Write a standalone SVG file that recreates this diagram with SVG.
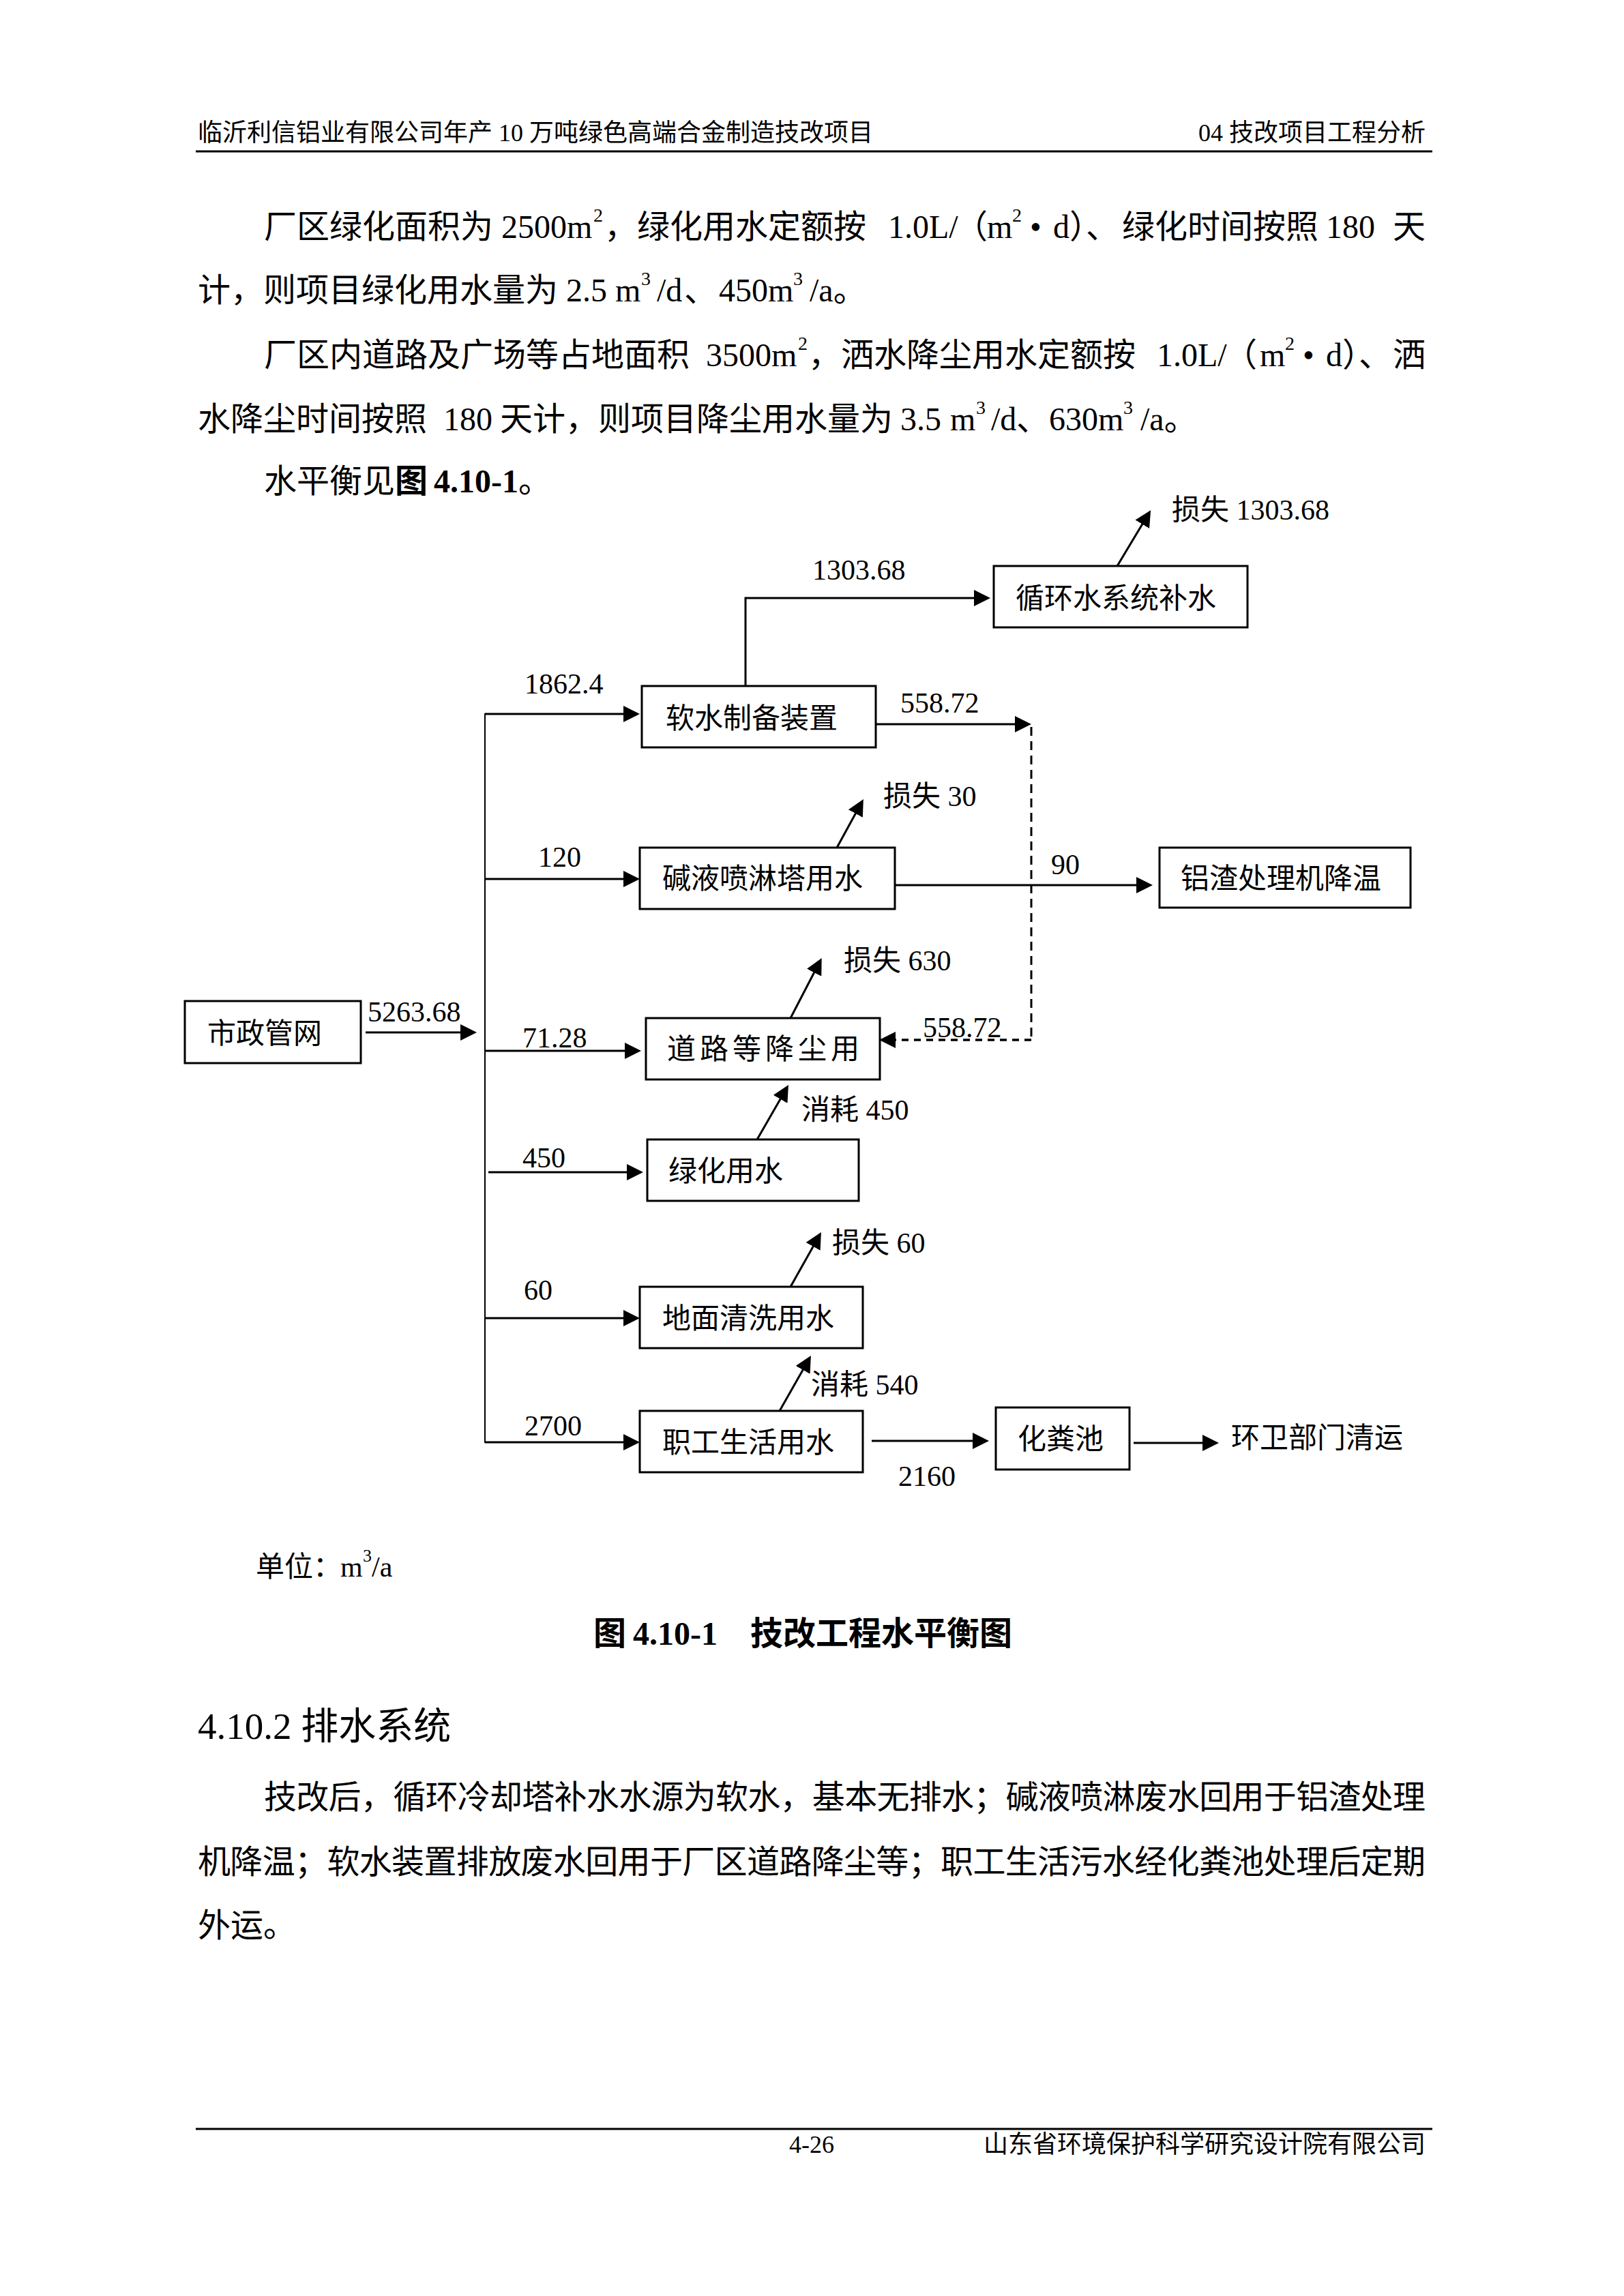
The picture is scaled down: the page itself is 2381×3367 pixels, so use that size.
<svg xmlns="http://www.w3.org/2000/svg" width="2381" height="3367" viewBox="0 0 2381 3367">
<style>
text { font-family: "Liberation Serif", "Noto Sans CJK SC", serif; fill: #000; }
.hd { font-size: 36px; }
.b { font-size: 48px; }
.sup { font-size: 28px; }
.bold { font-weight: bold; }
.halt { font-family: "Noto Sans CJK SC", sans-serif; font-feature-settings: "halt" 1; }
.h2 { font-size: 55px; }
.d { font-size: 42px; }
.box { fill: #fff; stroke: #000; stroke-width: 3; }
.ln { fill: none; stroke: #000; stroke-width: 3; }
.trunk { fill: none; stroke: #000; stroke-width: 2; }
.dash1 { fill: none; stroke: #000; stroke-width: 3; stroke-dasharray: 13 8; }
.dash2 { fill: none; stroke: #000; stroke-width: 3.3; stroke-dasharray: 10 8; }
.rule { stroke: #000; stroke-width: 3; }
</style>
<defs>
<marker id="ah" markerUnits="userSpaceOnUse" markerWidth="24" markerHeight="24" refX="16" refY="12" orient="auto">
<path d="M0,0 L24,12 L0,24 Z" fill="#000"/>
</marker>
</defs>
<rect x="0" y="0" width="2381" height="3367" fill="#fff"/>

<!-- header -->
<g id="header">
<text class="hd" x="290" y="207">临沂利信铝业有限公司年产 10 万吨绿色高端合金制造技改项目</text>
<text class="hd" x="2090" y="207" text-anchor="end">04 技改项目工程分析</text>
<line class="rule" x1="287" y1="222" x2="2100" y2="222"/>
</g>

<!-- paragraph 1 -->
<g id="para1">
<text class="b" y="349"><tspan x="387">厂区绿化面积为</tspan><tspan x="735">2500m</tspan><tspan x="870" y="325" class="sup">2</tspan><tspan x="886" y="349">，绿化用水定额按</tspan><tspan x="1302">1.0L/</tspan><tspan x="1400">（</tspan><tspan x="1447">m</tspan><tspan x="1484" y="325" class="sup">2</tspan><tspan x="1510" y="349">•</tspan><tspan x="1544">d</tspan><tspan x="1568" class="halt">）、</tspan><tspan x="1645">绿化时间按照</tspan><tspan x="1944">180</tspan><tspan x="2042">天</tspan></text>
<text class="b" y="442"><tspan x="290">计，则项目绿化用水量为</tspan><tspan x="830">2.5</tspan><tspan x="902">m</tspan><tspan x="940" y="418" class="sup">3</tspan><tspan x="963" y="442">/d</tspan><tspan x="1003">、</tspan><tspan x="1054">450m</tspan><tspan x="1163" y="418" class="sup">3</tspan><tspan x="1187" y="442">/a。</tspan></text>
<text class="b" y="537"><tspan x="387">厂区内道路及广场等占地面积</tspan><tspan x="1035">3500m</tspan><tspan x="1170" y="513" class="sup">2</tspan><tspan x="1185" y="537">，洒水降尘用水定额按</tspan><tspan x="1696">1.0L/</tspan><tspan x="1795">（</tspan><tspan x="1847">m</tspan><tspan x="1884" y="513" class="sup">2</tspan><tspan x="1910" y="537">•</tspan><tspan x="1944">d</tspan><tspan x="1968" class="halt">）、</tspan><tspan x="2042">洒</tspan></text>
<text class="b" y="631"><tspan x="290">水降尘时间按照</tspan><tspan x="650">180</tspan><tspan x="733">天计，则项目降尘用水量为</tspan><tspan x="1320">3.5</tspan><tspan x="1393">m</tspan><tspan x="1431" y="607" class="sup">3</tspan><tspan x="1453" y="631">/d</tspan><tspan x="1490">、</tspan><tspan x="1538">630m</tspan><tspan x="1647" y="607" class="sup">3</tspan><tspan x="1672" y="631">/a。</tspan></text>
<text class="b" y="722"><tspan x="387">水平衡见</tspan><tspan x="579" class="bold">图</tspan><tspan x="636" class="bold">4.10-1</tspan><tspan x="760">。</tspan></text>
</g>

<!-- diagram nodes -->
<g id="n-shizheng">
<rect class="box" x="271" y="1468" width="258" height="91"/>
<text class="d" x="304" y="1530">市政管网</text>
</g>
<g id="n-ruanshui">
<rect class="box" x="941" y="1006" width="343" height="90"/>
<text class="d" x="976" y="1068">软水制备装置</text>
</g>
<g id="n-xunhuan">
<rect class="box" x="1457" y="830" width="372" height="90"/>
<text class="d" x="1489" y="892">循环水系统补水</text>
</g>
<g id="n-jianye">
<rect class="box" x="938" y="1243" width="374" height="90"/>
<text class="d" x="971" y="1303">碱液喷淋塔用水</text>
</g>
<g id="n-lvzha">
<rect class="box" x="1700" y="1243" width="368" height="88"/>
<text class="d" x="1731" y="1303">铝渣处理机降温</text>
</g>
<g id="n-daolu">
<rect class="box" x="947" y="1493" width="343" height="90"/>
<text class="d" x="978" y="1553" letter-spacing="6">道路等降尘用</text>
</g>
<g id="n-lvhua">
<rect class="box" x="949" y="1671" width="310" height="90"/>
<text class="d" x="980" y="1732">绿化用水</text>
</g>
<g id="n-dimian">
<rect class="box" x="938" y="1887" width="327" height="90"/>
<text class="d" x="971" y="1948">地面清洗用水</text>
</g>
<g id="n-zhigong">
<rect class="box" x="938" y="2069" width="327" height="90"/>
<text class="d" x="971" y="2130">职工生活用水</text>
</g>
<g id="n-huafenchi">
<rect class="box" x="1460" y="2064" width="196" height="91"/>
<text class="d" x="1492" y="2125">化粪池</text>
</g>
<g id="n-huanwei">
<text class="d" x="1805" y="2123">环卫部门清运</text>
</g>

<!-- connectors -->
<g id="connectors">
<line class="trunk" x1="711" y1="1046" x2="711" y2="2116"/>
<line class="ln" x1="536" y1="1514" x2="691" y2="1514" marker-end="url(#ah)"/>
<line class="ln" x1="711" y1="1047" x2="930" y2="1047" marker-end="url(#ah)"/>
<line class="ln" x1="711" y1="1289" x2="930" y2="1289" marker-end="url(#ah)"/>
<line class="ln" x1="711" y1="1541" x2="932" y2="1541" marker-end="url(#ah)"/>
<line class="ln" x1="716" y1="1719" x2="935" y2="1719" marker-end="url(#ah)"/>
<line class="ln" x1="711" y1="1933" x2="930" y2="1933" marker-end="url(#ah)"/>
<line class="ln" x1="711" y1="2115" x2="930" y2="2115" marker-end="url(#ah)"/>
<path class="ln" d="M1093,1006 V877 H1444" marker-end="url(#ah)"/>
<line class="ln" x1="1638" y1="830" x2="1683" y2="755" marker-end="url(#ah)"/>
<line class="ln" x1="1284" y1="1062" x2="1504" y2="1062" marker-end="url(#ah)"/>
<line class="dash1" x1="1512" y1="1066" x2="1512" y2="1525"/>
<line class="dash2" x1="1512" y1="1525" x2="1297" y2="1525" marker-end="url(#ah)"/>
<line class="ln" x1="1227" y1="1243" x2="1262" y2="1179" marker-end="url(#ah)"/>
<line class="ln" x1="1312" y1="1298" x2="1682" y2="1298" marker-end="url(#ah)"/>
<line class="ln" x1="1159" y1="1493" x2="1201" y2="1412" marker-end="url(#ah)"/>
<line class="ln" x1="1110" y1="1671" x2="1152" y2="1598" marker-end="url(#ah)"/>
<line class="ln" x1="1159" y1="1887" x2="1200" y2="1814" marker-end="url(#ah)"/>
<line class="ln" x1="1143" y1="2069" x2="1185" y2="1995" marker-end="url(#ah)"/>
<line class="ln" x1="1278" y1="2113" x2="1442" y2="2113" marker-end="url(#ah)"/>
<line class="ln" x1="1662" y1="2116" x2="1779" y2="2116" marker-end="url(#ah)"/>
</g>

<!-- connector labels -->
<g id="labels">
<text class="d" x="1718" y="762">损失 1303.68</text>
<text class="d" x="1191" y="850">1303.68</text>
<text class="d" x="769" y="1017">1862.4</text>
<text class="d" x="1320" y="1045">558.72</text>
<text class="d" x="1295" y="1182">损失 30</text>
<text class="d" x="789" y="1271">120</text>
<text class="d" x="1541" y="1282">90</text>
<text class="d" x="1237" y="1423">损失 630</text>
<text class="d" x="539" y="1498">5263.68</text>
<text class="d" x="1353" y="1521">558.72</text>
<text class="d" x="766" y="1536">71.28</text>
<text class="d" x="1175" y="1642">消耗 450</text>
<text class="d" x="766" y="1712">450</text>
<text class="d" x="1220" y="1837">损失 60</text>
<text class="d" x="768" y="1906">60</text>
<text class="d" x="1189" y="2045">消耗 540</text>
<text class="d" x="769" y="2105">2700</text>
<text class="d" x="1317" y="2179">2160</text>
</g>

<g id="caption">
<text class="d" y="2312"><tspan x="375">单位：</tspan><tspan x="499">m</tspan><tspan x="532" y="2290" font-size="26">3</tspan><tspan x="545" y="2312">/a</tspan></text>
<text class="b bold" y="2412"><tspan x="870">图</tspan><tspan x="928">4.10-1</tspan><tspan x="1100">技改工程水平衡图</tspan></text>
</g>

<!-- section 4.10.2 -->
<g id="section">
<text class="h2" x="290" y="2550">4.10.2 排水系统</text>
<text class="b" x="387" y="2652" textLength="1703" lengthAdjust="spacing">技改后，循环冷却塔补水水源为软水，基本无排水；碱液喷淋废水回用于铝渣处理</text>
<text class="b" x="290" y="2747" textLength="1800" lengthAdjust="spacing">机降温；软水装置排放废水回用于厂区道路降尘等；职工生活污水经化粪池处理后定期</text>
<text class="b" x="290" y="2840">外运。</text>
</g>

<!-- footer -->
<g id="footer">
<line class="rule" x1="287" y1="3122" x2="2100" y2="3122"/>
<text class="hd" x="1157" y="3157">4-26</text>
<text class="hd" x="2090" y="3157" text-anchor="end">山东省环境保护科学研究设计院有限公司</text>
</g>
</svg>
